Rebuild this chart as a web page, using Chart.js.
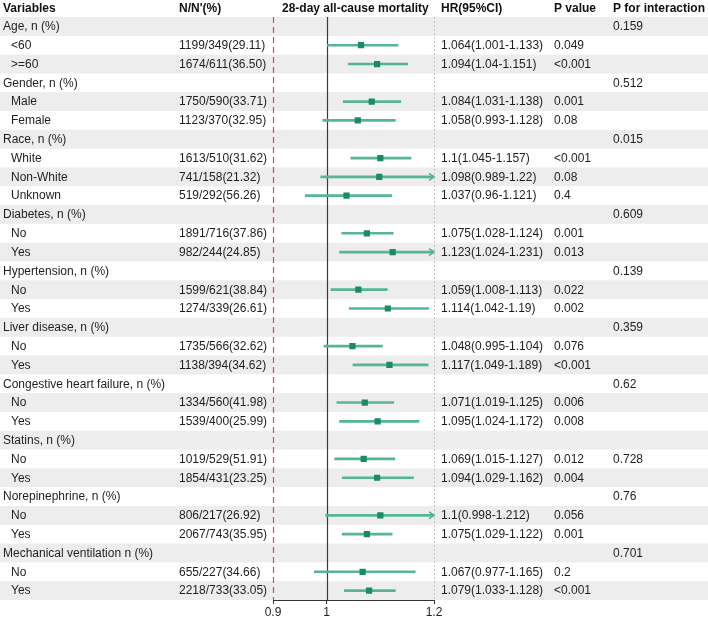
<!DOCTYPE html>
<html>
<head>
<meta charset="utf-8">
<script src="https://cdn.jsdelivr.net/npm/chart.js@4"></script>
<style>
  html, body { margin: 0; padding: 0; background: #fff; }
  #wrap { width: 708px; height: 622px; }
</style>
</head>
<body>
<div id="wrap"><canvas id="forest" width="708" height="622"></canvas></div>
<script>
const variables = ["Age, n (%)", "<60", ">=60", "Gender, n (%)", "Male", "Female",
  "Race, n (%)", "White", "Non-White", "Unknown", "Diabetes, n (%)", "No", "Yes",
  "Hypertension, n (%)", "No", "Yes", "Liver disease, n (%)", "No", "Yes",
  "Congestive heart failure, n (%)", "No", "Yes", "Statins, n (%)", "No", "Yes",
  "Norepinephrine, n (%)", "No", "Yes", "Mechanical ventilation n (%)", "No", "Yes"];
const counts = ["", "1199/349(29.11)", "1674/611(36.50)", "", "1750/590(33.71)", "1123/370(32.95)",
  "", "1613/510(31.62)", "741/158(21.32)", "519/292(56.26)", "", "1891/716(37.86)", "982/244(24.85)",
  "", "1599/621(38.84)", "1274/339(26.61)", "", "1735/566(32.62)", "1138/394(34.62)",
  "", "1334/560(41.98)", "1539/400(25.99)", "", "1019/529(51.91)", "1854/431(23.25)",
  "", "806/217(26.92)", "2067/743(35.95)", "", "655/227(34.66)", "2218/733(33.05)"];
const hr = [null, 1.064, 1.094, null, 1.084, 1.058, null, 1.1, 1.098, 1.037, null, 1.075, 1.123,
  null, 1.059, 1.114, null, 1.048, 1.117, null, 1.071, 1.095, null, 1.069, 1.094,
  null, 1.1, 1.075, null, 1.067, 1.079];
const lower = [null, 1.001, 1.04, null, 1.031, 0.993, null, 1.045, 0.989, 0.96, null, 1.028, 1.024,
  null, 1.008, 1.042, null, 0.995, 1.049, null, 1.019, 1.024, null, 1.015, 1.029,
  null, 0.998, 1.029, null, 0.977, 1.033];
const upper = [null, 1.133, 1.151, null, 1.138, 1.128, null, 1.157, 1.22, 1.121, null, 1.124, 1.231,
  null, 1.113, 1.19, null, 1.104, 1.189, null, 1.125, 1.172, null, 1.127, 1.162,
  null, 1.212, 1.122, null, 1.165, 1.128];
const pValues = ["", "0.049", "<0.001", "", "0.001", "0.08", "", "<0.001", "0.08", "0.4",
  "", "0.001", "0.013", "", "0.022", "0.002", "", "0.076", "<0.001", "", "0.006", "0.008",
  "", "0.012", "0.004", "", "0.056", "0.001", "", "0.2", "<0.001"];
const pInteraction = ["0.159", "", "", "0.512", "", "", "0.015", "", "", "", "0.609", "", "",
  "0.139", "", "", "0.359", "", "", "0.62", "", "", "", "0.728", "", "0.76", "", "", "0.701", "", ""];
const headers = ["Variables", "N/N'(%)", "28-day all-cause mortality", "HR(95%CI)", "P value", "P for interaction"];
const xTicks = [0.9, 1, 1.2];

const ciRanges = lower.map((lo, i) => lo === null ? null : [lo, upper[i]]);
const FONT = "'Liberation Sans', Arial, sans-serif";

const tablePlugin = {
  id: 'table',
  beforeDatasetsDraw(chart) {
    const ctx = chart.ctx, x = chart.scales.x, y = chart.scales.y, area = chart.chartArea;
    const h = (area.bottom - area.top) / variables.length;
    ctx.save();
    // row bands
    variables.forEach((v, i) => {
      if (i % 2 === 0) {
        ctx.fillStyle = '#ededed';
        ctx.fillRect(0, y.getPixelForValue(i) - h / 2, chart.width, h);
      }
    });
    // reference lines
    const x09 = Math.round(x.getPixelForValue(0.9)) + 0.5;
    const x1 = Math.round(x.getPixelForValue(1)) + 0.5;
    const x12 = Math.round(x.getPixelForValue(1.2)) + 0.5;
    ctx.lineWidth = 1.2;
    ctx.strokeStyle = '#e04848';
    ctx.setLineDash([6, 4]);
    ctx.beginPath(); ctx.moveTo(x09, area.top); ctx.lineTo(x09, area.bottom); ctx.stroke();
    ctx.lineWidth = 1;
    ctx.strokeStyle = '#c4c4c4';
    ctx.setLineDash([2, 2]);
    ctx.beginPath(); ctx.moveTo(x12, area.top); ctx.lineTo(x12, area.bottom); ctx.stroke();
    ctx.setLineDash([]);
    ctx.strokeStyle = '#3a3a3a';
    ctx.lineWidth = 1.2;
    ctx.beginPath(); ctx.moveTo(x1, area.top); ctx.lineTo(x1, area.bottom); ctx.stroke();
    ctx.restore();
  },
  afterDatasetsDraw(chart) {
    const ctx = chart.ctx, x = chart.scales.x, y = chart.scales.y;
    const x12 = x.getPixelForValue(1.2);
    ctx.save();
    // arrows for intervals beyond the axis
    ctx.strokeStyle = '#52b38d';
    ctx.lineWidth = 1.5;
    upper.forEach((u, i) => {
      if (u !== null && u > 1.2) {
        const py = y.getPixelForValue(i);
        ctx.beginPath();
        ctx.moveTo(x12 - 5, py - 3.5);
        ctx.lineTo(x12, py);
        ctx.lineTo(x12 - 5, py + 3.5);
        ctx.stroke();
      }
    });
    // headers
    ctx.textBaseline = 'middle';
    ctx.fillStyle = '#111';
    ctx.font = 'bold 12px ' + FONT;
    const hx = [3, 179, 282, 441, 554, 613];
    headers.forEach((t, k) => ctx.fillText(t, hx[k], 9));
    // body
    ctx.font = '12px ' + FONT;
    ctx.fillStyle = '#1e1e1e';
    variables.forEach((v, i) => {
      const py = y.getPixelForValue(i) + 0.5;
      const isGroup = counts[i] === '';
      ctx.fillText(v, isGroup ? 3 : 11, py);
      if (counts[i]) ctx.fillText(counts[i], 179, py);
      if (hr[i] !== null) ctx.fillText(hr[i] + '(' + lower[i] + '-' + upper[i] + ')', 441, py);
      if (pValues[i]) ctx.fillText(pValues[i], 554, py);
      if (pInteraction[i]) ctx.fillText(pInteraction[i], 613, py);
    });
    ctx.restore();
  }
};

const data = {
  labels: variables,
  datasets: [{
    type: 'bar',
    indexAxis: 'y',
    order: 2,
    data: ciRanges,
    backgroundColor: '#55b790',
    borderWidth: 0,
    barThickness: 2,
    grouped: false
  }, {
    type: 'line',
    indexAxis: 'y',
    order: 1,
    data: hr,
    showLine: false,
    pointStyle: 'rect',
    pointRadius: 4.4,
    pointBackgroundColor: '#1b8c62',
    pointBorderColor: '#1b8c62',
    pointBorderWidth: 0
  }]
};

const options = {
  responsive: false,
  animation: false,
  indexAxis: 'y',
  layout: { padding: { left: 273, right: 274, top: 17, bottom: 0 } },
  plugins: { legend: { display: false }, tooltip: { enabled: false } },
  scales: {
    y: {
      type: 'category',
      offset: true,
      display: false
    },
    x: {
      type: 'linear',
      min: 0.9,
      max: 1.2,
      afterBuildTicks: (s) => { s.ticks = xTicks.map(v => ({ value: v })); },
      grid: { drawOnChartArea: false, drawTicks: true, tickLength: 4, color: '#333' },
      border: { color: '#333', width: 1 },
      ticks: {
        padding: 3,
        color: '#222',
        font: { size: 12, family: FONT, lineHeight: 1 },
        maxRotation: 0,
        autoSkip: false,
        callback: (v) => String(v)
      }
    }
  }
};

new Chart(document.getElementById('forest').getContext('2d'), {
  type: 'bar',
  data: data,
  options: options,
  plugins: [tablePlugin]
});
</script>
</body>
</html>
